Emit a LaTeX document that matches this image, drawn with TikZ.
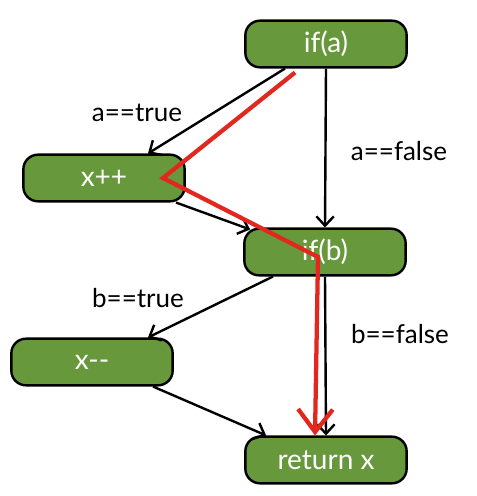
\documentclass[tikz,border=0pt]{standalone}
\usepackage{fontspec}
\setmainfont{Lato}
\usetikzlibrary{arrows.meta,calc}
\definecolor{blockgreen}{RGB}{103,152,60}
\definecolor{pathred}{RGB}{226,40,30}

\begin{document}
\begin{tikzpicture}[x=0.75pt,y=-0.75pt,
		block/.style={draw=black,line width=1.8pt,fill=blockgreen,rounded corners=11pt,
			minimum width=121pt,minimum height=35pt,text=white,font=\fontsize{21}{24}\selectfont},
		flow/.style={draw=black,line width=1.8pt,-{Straight Barb[length=7pt,width=13pt,line width=1.8pt]}},
		cond/.style={font=\fontsize{19.5}{22}\selectfont},
		redpath/.style={draw=pathred,line width=3.2pt,line join=miter,
			-{Straight Barb[length=17pt,width=26pt,line width=3.2pt]}}]
	\useasboundingbox (0,0) rectangle (476,496);

	% Блоки
	\node[block] (ifa) at (326,44) {if(a)};
	\node[block] (xpp) at (104,178) {x++};
	\node[block] (ifb) at (325,252) {if(b)};
	\node[block] (xmm) at (92,362) {x-{}-};
	\node[block] (ret) at (326,460) {return x};

	% Стрелки
	\draw[flow] ($(ifa.south)+(-41,0)$) -- ($(xpp.north)+(44,0)$);
	\draw[flow] (ifa.south) -- (ifb.north);
	\draw[flow] ($(xpp.south)+(72,0)$) -- ($(ifb.north west)+(7,2)$);
	\draw[flow] ($(ifb.south)+(-52,0)$) -- ($(xmm.north)+(56,0)$);
	\draw[flow] (ifb.south) -- (ret.north);
	\draw[flow] ($(xmm.south)+(61,0)$) -- ($(ret.north west)+(22,0)$);

	% Условия
	\node[cond] (atrue) at (137,113) {a==true};
	\node[cond] (afalse) at (399,151) {a==false};
	\node[cond] (btrue) at (138,298) {b==true};
	\node[cond] (bfalse) at (400,334) {b==false};

	% Путь
	\draw[redpath] ($(ifa.south)+(-31,4)$) -- ($(xpp.center)+(59,0)$)
		-- ($(ifb.center)+(-7,5)$) -- ($(ret.north)+(-11,0)$);
\end{tikzpicture}
\end{document}
